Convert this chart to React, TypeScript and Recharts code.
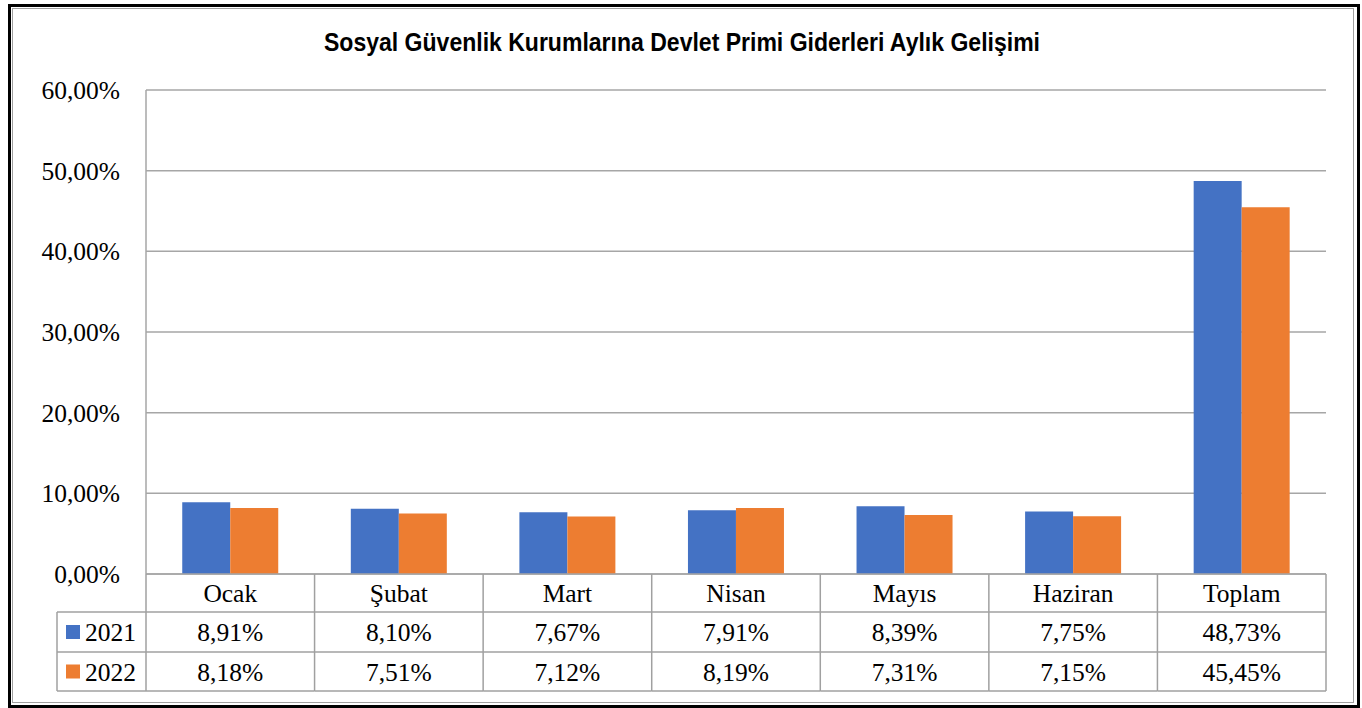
import React from "react";
import { BarChart, Bar, XAxis, YAxis, CartesianGrid } from "recharts";

const categories = ["Ocak", "Şubat", "Mart", "Nisan", "Mayıs", "Haziran", "Toplam"];
const values2021 = [8.91, 8.1, 7.67, 7.91, 8.39, 7.75, 48.73];
const values2022 = [8.18, 7.51, 7.12, 8.19, 7.31, 7.15, 45.45];
const seriesNames = ["2021", "2022"];
const yTicks = [0, 10, 20, 30, 40, 50, 60];
const title = "Sosyal Güvenlik Kurumlarına Devlet Primi Giderleri Aylık Gelişimi";

const W = 1362;
const H = 708;
const PLOT_LEFT = 146;
const PLOT_RIGHT = 1326;
const PLOT_TOP = 90;
const PLOT_BOTTOM = 574;
const Y_AXIS_W = 100;
const BW = (PLOT_RIGHT - PLOT_LEFT) / categories.length;
const ROW1 = 612;
const ROW2 = 652;
const ROW3 = 691;
const LEG_LEFT = 57;
const COLORS = ["#4472C4", "#ED7D31"];
const GRID = "#a6a6a6";
const TABLE = "#a0a0a0";
const SERIF = "'Liberation Serif', 'Times New Roman', serif";
const FS = 25.5;
const DY = 9;

const data = categories.map((c, i) => ({ name: c, v2021: values2021[i], v2022: values2022[i] }));

const fmt = (v: number) => v.toFixed(2).replace(".", ",") + "%";

const YTick = (props: any) => {
  const { y, payload } = props;
  return (
    <text x={120} y={y} dy={DY} textAnchor="end" fontFamily={SERIF} fontSize={FS} fill="#000">
      {fmt(payload.value)}
    </text>
  );
};

const XTick = (props: any) => {
  const { x, y, payload, index } = props;
  const left = x - BW / 2;
  const right = x + BW / 2;
  const top = y;
  const els: any[] = [];
  els.push(<line key="l" x1={left} y1={top} x2={left} y2={ROW3} stroke={TABLE} strokeWidth={1.5} />);
  if (index === categories.length - 1) {
    els.push(<line key="r" x1={right} y1={top} x2={right} y2={ROW3} stroke={TABLE} strokeWidth={1.5} />);
  }
  [ROW1, ROW2, ROW3].forEach((ry, k) => {
    els.push(<line key={"h" + k} x1={left} y1={ry} x2={right} y2={ry} stroke={TABLE} strokeWidth={1.5} />);
  });
  els.push(
    <text key="c" x={x} y={(top + ROW1) / 2 + DY} textAnchor="middle" fontFamily={SERIF} fontSize={FS} fill="#000">
      {payload.value}
    </text>
  );
  els.push(
    <text key="a" x={x} y={(ROW1 + ROW2) / 2 + DY} textAnchor="middle" fontFamily={SERIF} fontSize={FS} fill="#000">
      {fmt(values2021[index])}
    </text>
  );
  els.push(
    <text key="b" x={x} y={(ROW2 + ROW3) / 2 + DY} textAnchor="middle" fontFamily={SERIF} fontSize={FS} fill="#000">
      {fmt(values2022[index])}
    </text>
  );
  if (index === 0) {
    els.push(<line key="ll" x1={LEG_LEFT} y1={ROW1} x2={LEG_LEFT} y2={ROW3} stroke={TABLE} strokeWidth={1.5} />);
    [ROW1, ROW2, ROW3].forEach((ry, k) => {
      els.push(<line key={"lh" + k} x1={LEG_LEFT} y1={ry} x2={left} y2={ry} stroke={TABLE} strokeWidth={1.5} />);
    });
    [ROW1, ROW2].forEach((ry, k) => {
      const cy = ry + (k === 0 ? ROW2 - ROW1 : ROW3 - ROW2) / 2;
      els.push(<rect key={"sq" + k} x={66} y={cy - 7} width={14} height={14} fill={COLORS[k]} />);
      els.push(
        <text key={"lt" + k} x={85} y={cy + DY} fontFamily={SERIF} fontSize={FS} fill="#000">
          {seriesNames[k]}
        </text>
      );
    });
  }
  return <g>{els}</g>;
};

export default function App() {
  return (
    <div style={{ position: "absolute", left: 0, top: 0, width: W, height: H, background: "#fff" }}>
      <div
        style={{
          position: "absolute",
          left: 8,
          top: 4,
          width: 1352 - 6,
          height: 704 - 6,
          border: "3px solid #000",
        }}
      />
      <div
        style={{
          position: "absolute",
          left: 12,
          top: 8,
          width: 1343 - 3,
          height: 696 - 3,
          border: "1.5px solid #a0a0a0",
        }}
      />
      <svg style={{ position: "absolute", left: 0, top: 0 }} width={W} height={70}>
        <text
          x={W / 2 + 1}
          y={51}
          textAnchor="middle"
          fontFamily="'Liberation Sans', Arial, sans-serif"
          fontWeight="bold"
          fontSize={25}
          textLength={716}
          lengthAdjust="spacingAndGlyphs"
          fill="#000"
        >
          {title}
        </text>
      </svg>
      <div style={{ position: "absolute", left: 0, top: 0 }}>
        <BarChart
          width={W}
          height={H}
          data={data}
          margin={{ top: PLOT_TOP, right: W - PLOT_RIGHT, bottom: 0, left: PLOT_LEFT - Y_AXIS_W }}
          barCategoryGap="21.5%"
          barGap={0}
        >
          <CartesianGrid vertical={false} stroke={GRID} strokeWidth={1.5} />
          <XAxis
            dataKey="name"
            height={H - PLOT_BOTTOM}
            axisLine={{ stroke: GRID, strokeWidth: 1.5 }}
            tickLine={false}
            tickSize={0}
            tickMargin={0}
            interval={0}
            tick={<XTick />}
          />
          <YAxis
            width={Y_AXIS_W}
            domain={[0, 60]}
            ticks={yTicks}
            axisLine={{ stroke: GRID, strokeWidth: 1.5 }}
            tickLine={false}
            tick={<YTick />}
          />
          <Bar dataKey="v2021" fill={COLORS[0]} isAnimationActive={false} />
          <Bar dataKey="v2022" fill={COLORS[1]} isAnimationActive={false} />
        </BarChart>
      </div>
    </div>
  );
}
